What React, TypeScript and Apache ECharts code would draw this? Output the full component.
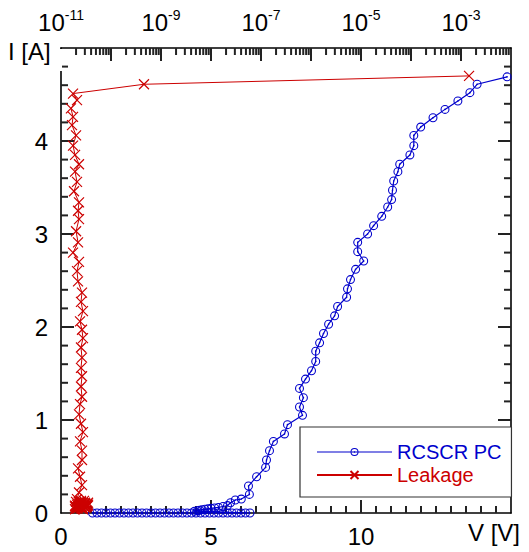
import React, { useEffect, useRef } from 'react';
import * as echarts from 'echarts';

// RCSCR PC: TLP voltage [V] vs TLP current [A]
const rcscrV = [
  1.05, 1.2, 1.35, 1.5, 1.65, 1.8, 1.95, 2.1, 2.25, 2.4, 2.55, 2.7, 2.85, 3.0, 3.15, 3.3, 3.45, 3.6,
  3.75, 3.9, 4.05, 4.2, 4.35, 4.5, 4.65, 4.8, 4.95, 5.1, 5.25, 5.4, 5.55, 5.7, 5.85, 6.0, 6.15, 6.3,
  4.45, 4.55, 4.62, 4.7, 4.8, 4.9, 5.0, 5.12, 5.25, 5.4, 5.55, 5.65, 5.81, 6.01,
  6.28, 6.25, 6.52, 6.82, 6.85, 6.95, 7.08, 7.45, 7.55, 8.05, 7.95, 8.08, 7.95, 8.15, 8.35, 8.49,
  8.49, 8.62, 8.75, 8.92, 9.12, 9.22, 9.52, 9.55, 9.65, 9.82, 10.09, 9.89, 9.89, 10.22, 10.42,
  10.69, 10.89, 11.02, 11.05, 11.09, 11.23, 11.29, 11.63, 11.76, 11.76, 11.99, 12.4, 12.8, 13.23,
  13.63, 13.87, 14.87,
];
const rcscrI = [
  0, 0, 0, 0, 0, 0, 0, 0, 0, 0, 0, 0, 0, 0, 0, 0, 0, 0,
  0, 0, 0, 0, 0, 0, 0, 0, 0, 0, 0, 0, 0, 0, 0, 0, 0, 0,
  0.02, 0.025, 0.03, 0.035, 0.04, 0.045, 0.05, 0.055, 0.06, 0.07, 0.08, 0.11, 0.14, 0.15,
  0.2, 0.29, 0.39, 0.49, 0.57, 0.67, 0.77, 0.85, 0.95, 1.05, 1.14, 1.24, 1.34, 1.44, 1.53, 1.63,
  1.74, 1.83, 1.93, 2.03, 2.12, 2.22, 2.32, 2.41, 2.51, 2.62, 2.71, 2.81, 2.91, 3.0, 3.09,
  3.19, 3.29, 3.37, 3.47, 3.57, 3.67, 3.75, 3.85, 3.95, 4.06, 4.15, 4.25, 4.34, 4.43,
  4.52, 4.61, 4.69,
];

// Leakage: leakage current [A] (top log axis) vs TLP current [A]
const leakA = [
  2.09e-11, 2.88e-11, 2.4e-11, 3.16e-11, 2.0e-11, 3.47e-11, 2.29e-11, 2.63e-11, 3.02e-11, 2.19e-11,
  2.51e-11, 3.31e-11, 2.75e-11, 2.0e-11, 2.4e-11, 3.16e-11, 2.19e-11, 2.88e-11, 2.63e-11, 2.29e-11,
  3.02e-11, 2.09e-11, 3.47e-11, 2.51e-11, 2.75e-11, 2.0e-11, 2.4e-11, 3.16e-11, 2.29e-11, 2.88e-11,
  1.91e-11, 3.31e-11, 2.51e-11, 2.19e-11, 3.02e-11, 2.63e-11, 1.91e-11, 3.47e-11, 2.4e-11, 2.88e-11,
  2.09e-11, 3.16e-11, 2.75e-11, 2.0e-11, 3.31e-11, 2.29e-11, 2.63e-11, 3.02e-11, 1.91e-11, 2.51e-11,
  2.09e-11, 2.29e-11, 2.63e-11, 2.4e-11, 2.19e-11, 2.63e-11, 2.63e-11, 2.4e-11, 2.75e-11, 2.51e-11,
  2.29e-11, 2.4e-11, 2.63e-11, 2.51e-11, 2.63e-11, 2.51e-11, 2.63e-11, 2.51e-11, 2.75e-11, 2.63e-11,
  2.4e-11, 2.75e-11, 2.51e-11, 2.63e-11, 2.19e-11, 2.09e-11, 2.29e-11, 1.74e-11, 2.19e-11, 2.0e-11,
  2.29e-11, 2.19e-11, 2.29e-11, 1.82e-11, 2.09e-11, 1.91e-11, 2.29e-11, 1.91e-11, 1.74e-11, 2.0e-11,
  1.66e-11, 1.74e-11, 1.58e-11, 2.09e-11, 1.74e-11, 4.57e-10, 1.45e-3,
];
const leakI = [
  0.05, 0.07, 0.06, 0.08, 0.05, 0.09, 0.07, 0.06, 0.1, 0.08,
  0.05, 0.07, 0.11, 0.06, 0.09, 0.08, 0.05, 0.1, 0.07, 0.12,
  0.06, 0.09, 0.08, 0.11, 0.05, 0.07, 0.1, 0.06, 0.12, 0.08,
  0.04, 0.09, 0.12, 0.06, 0.1, 0.05, 0.08, 0.11, 0.07, 0.13,
  0.06, 0.09, 0.04, 0.12, 0.08, 0.1, 0.05, 0.11, 0.07, 0.13,
  0.15, 0.22, 0.3, 0.39, 0.48, 0.57, 0.67, 0.77, 0.87, 0.96,
  1.06, 1.17, 1.25, 1.36, 1.47, 1.56, 1.67, 1.78, 1.88, 1.97,
  2.06, 2.17, 2.27, 2.37, 2.49, 2.6, 2.7, 2.8, 2.91, 3.03,
  3.16, 3.25, 3.34, 3.46, 3.56, 3.67, 3.75, 3.85, 3.95, 4.06,
  4.17, 4.26, 4.35, 4.44, 4.51, 4.61, 4.7,
];

const topExpMin = -11;
const topExpMax = -2;
const topLabelExps = [-11, -9, -7, -5, -3];
const vMax = 15;
const iMax = 5;

const BLUE = '#0000cc';
const RED = '#cc0000';
const FONT = '"Liberation Sans", Arial, sans-serif';
const MAJOR = 13;
const MINOR = 7;
const TICK_W = 2;

const ringSymbol =
  'path://M10 0A10 10 0 1 1 10 20A10 10 0 1 1 10 0ZM10 2.4A7.6 7.6 0 1 0 10 17.6A7.6 7.6 0 1 0 10 2.4ZM10 8.2A1.8 1.8 0 1 1 10 11.8A1.8 1.8 0 1 1 10 8.2Z';
const crossSymbol = 'path://M0 0L10 10M10 0L0 10';

// tick drawn as a thin filled rect: data item [x, y, dx, dy]
const tickRender = (params: any, api: any) => {
  const p = api.coord([api.value(0), api.value(1)]);
  const dx = api.value(2);
  const dy = api.value(3);
  const shape =
    dx === 0
      ? { x: p[0] - TICK_W / 2, y: dy > 0 ? p[1] : p[1] + dy, width: TICK_W, height: Math.abs(dy) }
      : { x: dx > 0 ? p[0] : p[0] + dx, y: p[1] - TICK_W / 2, width: Math.abs(dx), height: TICK_W };
  return { type: 'rect', shape, style: { fill: '#222' } };
};

export default function App() {
  const ref = useRef<HTMLDivElement>(null);
  useEffect(() => {
    if (!ref.current) return;
    const chart = echarts.init(ref.current, undefined, { renderer: 'svg' });

    // ticks on the V / I frame: [V, I, dx, dy]
    const frameTicks: number[][] = [];
    for (let j = 1; j < 30; j++) {
      const len = j % 10 === 0 ? MAJOR : MINOR;
      frameTicks.push([j / 2, 0, 0, -len]);
    }
    for (let j = 1; j < 25; j++) {
      const len = j % 5 === 0 ? MAJOR : MINOR;
      frameTicks.push([0, j / 5, len, 0]);
      frameTicks.push([vMax, j / 5, -len, 0]);
    }
    // ticks on the top log axis: [current, I, dx, dy]
    const topTicks: number[][] = [];
    for (let n = topExpMin; n <= topExpMax; n++) {
      if (n > topExpMin && n < topExpMax) topTicks.push([Math.pow(10, n), iMax, 0, MAJOR]);
      if (n < topExpMax) for (let k = 2; k <= 9; k++) topTicks.push([k * Math.pow(10, n), iMax, 0, MINOR]);
    }

    const axisLineStyle = { show: true, onZero: false, lineStyle: { color: '#000', width: 1.6 } };

    chart.setOption({
      animation: false,
      backgroundColor: '#fff',
      textStyle: { fontFamily: FONT },
      grid: { left: 61, right: 18, top: 48, bottom: 39, containLabel: false, outerBoundsMode: 'none' },
      xAxis: [
        {
          type: 'value',
          position: 'bottom',
          min: 0,
          max: vMax,
          interval: 5,
          axisLine: axisLineStyle,
          axisTick: { show: false },
          axisLabel: { fontSize: 24, color: '#000', margin: 11, fontFamily: FONT, showMaxLabel: false },
          splitLine: { show: false },
        },
        {
          type: 'log',
          logBase: 10,
          position: 'top',
          min: Math.pow(10, topExpMin),
          max: Math.pow(10, topExpMax),
          axisLine: axisLineStyle,
          axisTick: { show: false },
          axisLabel: { show: false },
          splitLine: { show: false },
        },
        {
          type: 'value',
          position: 'top',
          min: topExpMin,
          max: topExpMax,
          interval: 1,
          axisLine: { show: false, onZero: false },
          axisTick: { show: false },
          axisLabel: {
            margin: 12,
            color: '#000',
            formatter: (v: number) => (topLabelExps.indexOf(v) >= 0 ? `{b|10}{s|${v}}` : ''),
            rich: {
              b: { fontSize: 24, lineHeight: 28, fontFamily: FONT, color: '#000' },
              s: { fontSize: 14, lineHeight: 14, verticalAlign: 'top', fontFamily: FONT, color: '#000' },
            },
          },
          splitLine: { show: false },
        },
      ],
      yAxis: [
        {
          type: 'value',
          position: 'left',
          min: 0,
          max: iMax,
          interval: 1,
          axisLine: axisLineStyle,
          axisTick: { show: false },
          axisLabel: { fontSize: 24, color: '#000', margin: 13, fontFamily: FONT, showMaxLabel: false },
          splitLine: { show: false },
        },
        {
          type: 'value',
          position: 'right',
          min: 0,
          max: iMax,
          interval: 1,
          axisLine: axisLineStyle,
          axisTick: { show: false },
          axisLabel: { show: false },
          splitLine: { show: false },
        },
      ],
      legend: {
        left: 300,
        top: 427,
        orient: 'vertical',
        itemWidth: 75,
        itemHeight: 10,
        itemGap: 3,
        padding: [15, 10, 12, 16],
        borderColor: '#333',
        borderWidth: 1.2,
        borderRadius: 0,
        backgroundColor: '#fff',
        textStyle: { fontSize: 20, lineHeight: 20, fontFamily: FONT },
        data: [
          { name: 'RCSCR PC', textStyle: { color: BLUE }, lineStyle: { width: 1.2 } },
          { name: 'Leakage', textStyle: { color: RED }, lineStyle: { width: 2 } },
        ],
      },
      series: [
        {
          name: 'frameTicks',
          type: 'custom',
          xAxisIndex: 0,
          yAxisIndex: 0,
          silent: true,
          clip: false,
          data: frameTicks,
          renderItem: tickRender,
          z: 1,
        },
        {
          name: 'topTicks',
          type: 'custom',
          xAxisIndex: 1,
          yAxisIndex: 0,
          silent: true,
          clip: false,
          data: topTicks,
          renderItem: tickRender,
          z: 1,
        },
        {
          name: 'RCSCR PC',
          type: 'line',
          xAxisIndex: 0,
          yAxisIndex: 0,
          data: rcscrV.map((v, i) => [v, rcscrI[i]]),
          symbol: ringSymbol,
          symbolSize: 9,
          symbolKeepAspect: true,
          showAllSymbol: true,
          clip: false,
          color: BLUE,
          itemStyle: { color: BLUE },
          lineStyle: { color: BLUE, width: 1.2 },
          z: 3,
        },
        {
          name: 'Leakage',
          type: 'line',
          xAxisIndex: 1,
          yAxisIndex: 0,
          data: leakA.map((a, i) => [a, leakI[i]]),
          symbol: crossSymbol,
          symbolSize: 10,
          showAllSymbol: true,
          clip: false,
          color: RED,
          itemStyle: { color: RED, borderColor: RED, borderWidth: 1.2 },
          lineStyle: { color: RED, width: 1 },
          z: 4,
        },
      ],
      graphic: [
        {
          type: 'rect',
          shape: { x: 58.5, y: 49, width: 3.5, height: 22 },
          style: { fill: '#fff' },
          z: 100,
        },
        {
          type: 'text',
          x: 8,
          y: 51,
          style: {
            text: 'I [A]',
            fontSize: 24,
            fontFamily: FONT,
            fill: '#000',
            align: 'left',
            verticalAlign: 'middle',
            textAlign: 'left',
            textVerticalAlign: 'middle',
          },
        },
        {
          type: 'text',
          x: 520,
          y: 532,
          style: {
            text: 'V [V]',
            fontSize: 24,
            fontFamily: FONT,
            fill: '#000',
            align: 'right',
            verticalAlign: 'middle',
            textAlign: 'right',
            textVerticalAlign: 'middle',
          },
        },
      ],
    });

    return () => chart.dispose();
  }, []);

  return <div ref={ref} style={{ width: 529, height: 552, position: 'absolute', left: 0, top: 0 }} />;
}
